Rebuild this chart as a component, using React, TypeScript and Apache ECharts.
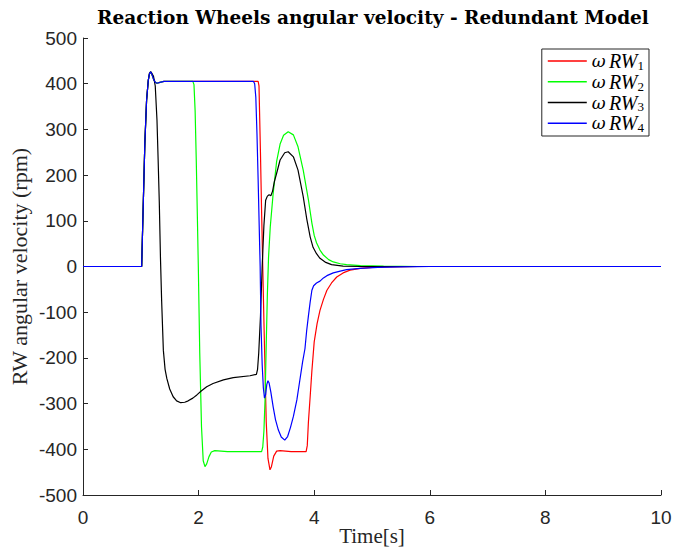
import React, { useEffect, useRef } from "react";
import * as echarts from "echarts";

// Time [s] / angular velocity [rpm] samples for each reaction wheel
const rw1: [number, number][] = [
  [0, 0], [1.0, 0], [1.015, 0], [1.04, 124], [1.07, 270], [1.1, 364], [1.13, 408], [1.15, 422],
  [1.17, 426], [1.19, 421], [1.22, 410], [1.25, 403], [1.28, 401], [1.33, 403], [1.4, 405],
  [3.03, 405], [3.045, 395], [3.07, 250], [3.09, 120], [3.11, 0], [3.13, -120], [3.15, -230],
  [3.17, -340], [3.2, -420], [3.235, -445], [3.26, -438], [3.3, -415], [3.35, -404], [3.41, -403],
  [3.6, -405], [3.86, -405], [3.88, -392], [3.9, -340], [3.93, -285], [3.96, -228], [4.0, -165],
  [4.05, -125], [4.1, -96], [4.16, -72], [4.22, -52], [4.3, -36], [4.39, -23], [4.5, -14],
  [4.62, -8], [4.8, -4], [5.0, -2], [5.3, -1], [5.8, 0], [10, 0],
];

const rw2: [number, number][] = [
  [0, 0], [1.0, 0], [1.015, 0], [1.04, 124], [1.07, 270], [1.1, 364], [1.13, 408], [1.15, 422],
  [1.17, 426], [1.19, 421], [1.22, 410], [1.25, 403], [1.28, 401], [1.33, 403], [1.4, 405],
  [1.9, 405], [1.92, 398], [1.94, 340], [1.96, 230], [1.98, 100], [1.995, 0], [2.02, -190],
  [2.05, -350], [2.08, -425], [2.11, -438], [2.14, -432], [2.18, -416], [2.22, -406], [2.28, -403],
  [2.5, -405], [3.09, -405], [3.11, -395], [3.13, -360], [3.15, -290], [3.17, -170], [3.19, -60],
  [3.21, 20], [3.24, 87], [3.29, 160], [3.35, 230], [3.41, 268], [3.47, 287], [3.55, 295],
  [3.64, 288], [3.72, 262], [3.81, 211], [3.9, 146], [3.96, 95], [4.0, 68], [4.04, 52],
  [4.1, 36], [4.16, 25], [4.25, 15], [4.33, 10], [4.45, 6], [4.56, 4], [4.8, 2], [5.2, 1],
  [5.8, 0], [10, 0],
];

const rw3: [number, number][] = [
  [0, 0], [1.0, 0], [1.015, 0], [1.04, 124], [1.07, 270], [1.1, 364], [1.13, 408], [1.15, 422],
  [1.17, 426], [1.19, 423], [1.22, 416], [1.25, 395], [1.28, 320], [1.3, 233], [1.32, 140],
  [1.34, 20], [1.36, -73], [1.39, -183], [1.42, -225], [1.45, -245], [1.5, -268], [1.56, -285],
  [1.62, -294], [1.69, -298], [1.76, -297], [1.82, -294], [1.9, -288], [1.97, -281], [2.05, -272],
  [2.14, -263], [2.25, -256], [2.43, -248], [2.6, -243], [2.89, -239], [3.0, -236], [3.02, -225],
  [3.04, -190], [3.07, -110], [3.1, 0], [3.13, 90], [3.16, 145], [3.19, 154], [3.22, 157],
  [3.25, 155], [3.28, 165], [3.31, 185], [3.35, 204], [3.41, 233], [3.49, 249], [3.55, 251],
  [3.64, 240], [3.72, 211], [3.81, 153], [3.87, 105], [3.93, 65], [3.98, 42], [4.04, 28],
  [4.1, 18], [4.2, 9], [4.3, 4], [4.5, 1], [4.8, 0], [10, 0],
];

const rw4: [number, number][] = [
  [0, 0], [1.0, 0], [1.015, 0], [1.04, 124], [1.07, 270], [1.1, 364], [1.13, 408], [1.15, 422],
  [1.17, 426], [1.19, 421], [1.22, 410], [1.25, 403], [1.28, 401], [1.33, 403], [1.4, 405],
  [2.95, 405], [2.97, 400], [2.99, 370], [3.01, 290], [3.03, 190], [3.05, 80], [3.065, 0],
  [3.08, -130], [3.1, -215], [3.12, -265], [3.14, -288], [3.16, -280], [3.18, -258], [3.2, -250],
  [3.22, -255], [3.25, -275], [3.29, -307], [3.33, -335], [3.38, -358], [3.43, -373], [3.49, -380],
  [3.54, -372], [3.59, -352], [3.64, -328], [3.7, -292], [3.75, -250], [3.8, -208], [3.84, -180],
  [3.87, -140], [3.9, -108], [3.93, -78], [3.96, -52], [3.99, -42], [4.04, -36], [4.1, -32],
  [4.16, -25], [4.22, -20], [4.33, -14], [4.45, -10], [4.56, -7], [4.79, -4], [5.1, -2],
  [5.5, -1], [6, 0], [10, 0],
];

const seriesNames = ["RW1", "RW2", "RW3", "RW4"];
const seriesColors = ["#ff0000", "#00ff00", "#000000", "#0000ff"];
const seriesData = [rw1, rw2, rw3, rw4];

const xTicks = { min: 0, max: 10, interval: 2 };
const yTicks = { min: -500, max: 500, interval: 100 };

const titleText = "Reaction Wheels angular velocity - Redundant Model";
const xName = "Time[s]";
const yName = "RW angular velocity (rpm)";

const axisColor = "#262626";

export default function App() {
  const ref = useRef<HTMLDivElement>(null);

  useEffect(() => {
    if (!ref.current) return;
    // keep the page itself from scrolling so the chart fills the window exactly
    document.documentElement.style.overflow = "hidden";
    document.body.style.margin = "0";
    document.body.style.overflow = "hidden";

    const chart = echarts.init(ref.current, undefined, { renderer: "svg" });

    const axisCommon = {
      type: "value" as const,
      nameLocation: "middle" as const,
      nameMoveOverlap: false,
      nameTextStyle: { fontFamily: "Liberation Serif", fontSize: 21, color: axisColor },
      axisLine: { show: true, onZero: false, lineStyle: { color: axisColor, width: 1 } },
      axisTick: { show: true, inside: true, length: 5, lineStyle: { color: axisColor } },
      axisLabel: { fontFamily: "Liberation Sans", fontSize: 19, color: axisColor },
      splitLine: { show: false },
    };

    chart.setOption({
      animation: false,
      backgroundColor: "#ffffff",
      graphic: [
        {
          type: "text",
          x: 373,
          y: 17,
          style: {
            text: titleText,
            fontFamily: "DejaVu Serif",
            fontWeight: "bold",
            fontSize: 18.5,
            fill: "#000",
            align: "center",
            verticalAlign: "middle",
          },
        },
      ],
      grid: {
        left: 83,
        right: 12,
        top: 38,
        bottom: 56,
        containLabel: false,
        outerBoundsMode: "none",
      },
      xAxis: {
        ...axisCommon,
        ...xTicks,
        name: xName,
        nameGap: 30,
        axisLabel: { ...axisCommon.axisLabel, margin: 13 },
      },
      yAxis: {
        ...axisCommon,
        ...yTicks,
        name: yName,
        nameGap: 53,
        nameRotate: 90,
        nameTextStyle: { ...axisCommon.nameTextStyle, fontSize: 22 },
        axisLabel: { ...axisCommon.axisLabel, margin: 6 },
      },
      legend: {
        orient: "vertical",
        right: 24,
        top: 49,
        align: "left",
        icon: "rect",
        backgroundColor: "#ffffff",
        borderColor: axisColor,
        borderWidth: 1,
        padding: [2, 5, 2, 6],
        itemWidth: 39,
        itemHeight: 1.5,
        itemGap: 0,
        data: seriesNames,
        formatter: (name: string) => `{w|ω} {i|RW}{s|${name.slice(2)}}`,
        textStyle: {
          color: "#000",
          rich: {
            w: { fontFamily: "DejaVu Serif", fontStyle: "italic", fontSize: 17, lineHeight: 21.5 },
            i: { fontFamily: "Liberation Serif", fontStyle: "italic", fontSize: 20, lineHeight: 21.5 },
            s: { fontFamily: "Liberation Serif", fontSize: 13, lineHeight: 13, verticalAlign: "bottom" },
          },
        },
      },
      series: seriesData.map((data, i) => ({
        name: seriesNames[i],
        type: "line",
        data,
        symbol: "none",
        showSymbol: false,
        smooth: false,
        lineStyle: { color: seriesColors[i], width: 1.2 },
        itemStyle: { color: seriesColors[i] },
        z: 2 + i,
      })),
    });

    return () => chart.dispose();
  }, []);

  return (
    <div
      ref={ref}
      style={{ position: "fixed", left: 0, top: 0, width: 673, height: 551 }}
    />
  );
}
